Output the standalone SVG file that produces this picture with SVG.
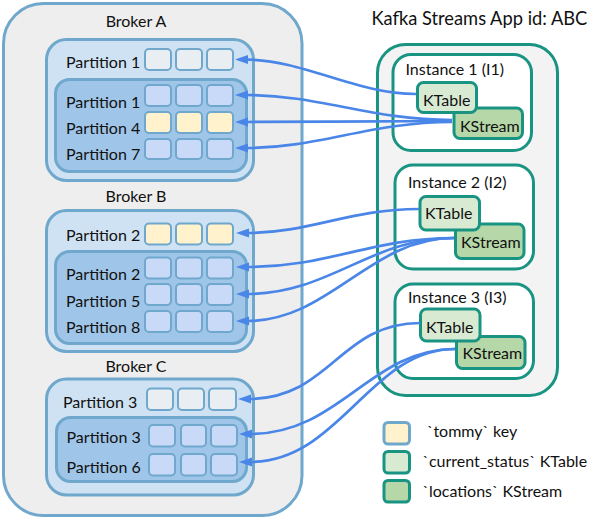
<svg xmlns="http://www.w3.org/2000/svg" width="590" height="520" viewBox="0 0 590 520">
<defs>
<style>
text{font-family:Lato,"Liberation Sans",sans-serif;font-size:16px;fill:#111}
.title{font-size:18.3px}
.outer{fill:#eeeeee;stroke:#6fa8cc;stroke-width:3}
.grp{fill:#cfe2f3;stroke:#6fa8cc;stroke-width:3}
.inner{fill:#9fc5e8;stroke:#6fa8cc;stroke-width:3}
.c0{fill:#e9eef3;stroke:#6fa8cc;stroke-width:2}
.c1{fill:#c9daf8;stroke:#6fa8cc;stroke-width:2}
.cy{fill:#fff2cc;stroke:#6fa8cc;stroke-width:2}
.app{fill:#f3f3f3;stroke:#1a9482;stroke-width:3}
.inst{fill:#ffffff;stroke:#1a9482;stroke-width:3}
.kt{fill:#d9ead3;stroke:#1a9482;stroke-width:3}
.ks{fill:#b6d7a8;stroke:#1a9482;stroke-width:3}
.lk{fill:#fff2cc;stroke:#6fa8cc;stroke-width:3}
.conn path{fill:none;stroke:#4a86e8;stroke-width:2.7}
</style>
<marker id="ah" markerUnits="userSpaceOnUse" markerWidth="14" markerHeight="10" refX="2" refY="4.5" orient="auto">
<path d="M0,0 L13,4.5 L0,9 z" fill="#4a86e8"/>
</marker>
</defs>

<g id="brokers">
<rect class="outer" x="3.5" y="3.5" width="298.5" height="512" rx="40"/>
</g>

<g id="broker-a">
<text x="136" y="27" text-anchor="middle">Broker A</text>
<rect class="grp" x="46.5" y="39.5" width="207" height="141" rx="20"/>
<text x="66" y="68">Partition 1</text>
<rect class="c0" x="145" y="49" width="26" height="21" rx="4"/>
<rect class="c0" x="176" y="49" width="26" height="21" rx="4"/>
<rect class="c0" x="207" y="49" width="26" height="21" rx="4"/>
<rect class="inner" x="55.5" y="79.5" width="191" height="92" rx="14"/>
<text x="66" y="107.5">Partition 1</text>
<rect class="c1" x="145" y="85" width="26" height="21" rx="4"/>
<rect class="c1" x="176" y="85" width="26" height="21" rx="4"/>
<rect class="c1" x="207" y="85" width="26" height="21" rx="4"/>
<text x="66" y="133.5">Partition 4</text>
<rect class="cy" x="145" y="112" width="26" height="21" rx="4"/>
<rect class="cy" x="176" y="112" width="26" height="21" rx="4"/>
<rect class="cy" x="207" y="112" width="26" height="21" rx="4"/>
<text x="66" y="160">Partition 7</text>
<rect class="c1" x="145" y="139" width="26" height="20" rx="4"/>
<rect class="c1" x="176" y="139" width="26" height="20" rx="4"/>
<rect class="c1" x="207" y="139" width="26" height="20" rx="4"/>
</g>

<g id="broker-b">
<text x="136" y="202" text-anchor="middle">Broker B</text>
<rect class="grp" x="46.5" y="210.5" width="207" height="141" rx="20"/>
<text x="66" y="240.5">Partition 2</text>
<rect class="cy" x="145" y="223.5" width="26" height="21" rx="4"/>
<rect class="cy" x="176" y="223.5" width="26" height="21" rx="4"/>
<rect class="cy" x="207" y="223.5" width="26" height="21" rx="4"/>
<rect class="inner" x="55.5" y="251.5" width="191" height="92" rx="14"/>
<text x="66" y="280">Partition 2</text>
<rect class="c1" x="145" y="257.5" width="26" height="21" rx="4"/>
<rect class="c1" x="176" y="257.5" width="26" height="21" rx="4"/>
<rect class="c1" x="207" y="257.5" width="26" height="21" rx="4"/>
<text x="66" y="307">Partition 5</text>
<rect class="c1" x="145" y="284" width="26" height="21" rx="4"/>
<rect class="c1" x="176" y="284" width="26" height="21" rx="4"/>
<rect class="c1" x="207" y="284" width="26" height="21" rx="4"/>
<text x="66" y="333">Partition 8</text>
<rect class="c1" x="145" y="311" width="26" height="21" rx="4"/>
<rect class="c1" x="176" y="311" width="26" height="21" rx="4"/>
<rect class="c1" x="207" y="311" width="26" height="21" rx="4"/>
</g>

<g id="broker-c">
<text x="136" y="371.5" text-anchor="middle">Broker C</text>
<rect class="grp" x="46.5" y="379" width="207" height="116" rx="20"/>
<text x="63" y="407.5">Partition 3</text>
<rect class="c0" x="147" y="388.5" width="26" height="21.5" rx="4"/>
<rect class="c0" x="178" y="388.5" width="26" height="21.5" rx="4"/>
<rect class="c0" x="209" y="388.5" width="27" height="21.5" rx="4"/>
<rect class="inner" x="56.5" y="417.5" width="190" height="64" rx="14"/>
<text x="66.5" y="443">Partition 3</text>
<rect class="c1" x="149" y="425" width="26" height="21.5" rx="4"/>
<rect class="c1" x="181" y="425" width="25" height="21.5" rx="4"/>
<rect class="c1" x="211" y="425" width="26" height="21.5" rx="4"/>
<text x="66.5" y="472.5">Partition 6</text>
<rect class="c1" x="149" y="454" width="26" height="21.5" rx="4"/>
<rect class="c1" x="181" y="454" width="25" height="21.5" rx="4"/>
<rect class="c1" x="211" y="454" width="26" height="21.5" rx="4"/>
</g>

<g id="app">
<text class="title" x="371.5" y="25">Kafka Streams App id: ABC</text>
<rect class="app" x="377.5" y="44.5" width="180" height="351" rx="28"/>
</g>

<g id="instance-1">
<rect class="inst" x="393" y="54.5" width="138.5" height="96" rx="18"/>
<text x="405.5" y="75">Instance 1 (I1)</text>
<rect class="ks" x="454" y="108" width="68.5" height="30.5" rx="6"/>
<text x="460" y="131.5">KStream</text>
<rect class="kt" x="417.5" y="82.5" width="59" height="30" rx="6"/>
<text x="423" y="106">KTable</text>
</g>

<g id="instance-2">
<rect class="inst" x="395" y="165" width="138.5" height="104" rx="18"/>
<text x="408" y="188">Instance 2 (I2)</text>
<rect class="ks" x="455.5" y="224" width="68.5" height="34.5" rx="6"/>
<text x="461" y="248">KStream</text>
<rect class="kt" x="420" y="196.5" width="59.5" height="33.5" rx="6"/>
<text x="425" y="219">KTable</text>
</g>

<g id="instance-3">
<rect class="inst" x="395" y="284" width="138.5" height="94.5" rx="18"/>
<text x="408" y="303">Instance 3 (I3)</text>
<rect class="ks" x="456.5" y="336.5" width="68.5" height="32" rx="6"/>
<text x="462.5" y="359">KStream</text>
<rect class="kt" x="420.5" y="309" width="59.5" height="32" rx="6"/>
<text x="426" y="332.5">KTable</text>
</g>

<g id="connectors" class="conn">
<path d="M416,94 C355,94 305,60 246,59.5" marker-end="url(#ah)"/>
<path d="M452,120 C370,120 320,95 246,95" marker-end="url(#ah)"/>
<path d="M452,121 C370,121 320,122 246,122" marker-end="url(#ah)"/>
<path d="M452,122 C370,122 320,148 246,148" marker-end="url(#ah)"/>
<path d="M419,209 C350,209 310,233 247,233" marker-end="url(#ah)"/>
<path d="M454,238 C370,238 330,267 247,267" marker-end="url(#ah)"/>
<path d="M454,238 C370,238 330,294 247,294" marker-end="url(#ah)"/>
<path d="M454,238 C370,238 330,321 247,321" marker-end="url(#ah)"/>
<path d="M420,323 C340,323 330,399 249,399" marker-end="url(#ah)"/>
<path d="M455,349 C370,349 340,434 250,434" marker-end="url(#ah)"/>
<path d="M455,349 C370,349 340,462 250,462" marker-end="url(#ah)"/>
</g>

<g id="legend">
<rect class="lk" x="384" y="422.5" width="25.5" height="21.5" rx="4"/>
<text x="427" y="436.5">`tommy` key</text>
<rect class="kt" x="384" y="451.5" width="25.5" height="21.5" rx="4"/>
<text x="422.5" y="467">`current_status` KTable</text>
<rect class="ks" x="384" y="480.5" width="25.5" height="21.5" rx="4"/>
<text x="422.5" y="496.5">`locations` KStream</text>
</g>
</svg>
